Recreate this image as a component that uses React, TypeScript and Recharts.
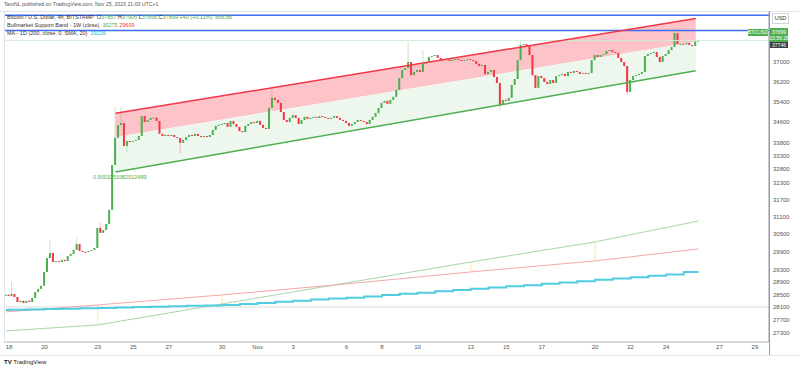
import React from "react";
import {
  ComposedChart,
  Bar,
  Line,
  Area,
  XAxis,
  YAxis,
  ReferenceLine,
} from "recharts";

// 4h bars, bar 0 = Oct 18 00:00 UTC, first bar is Oct 17 20:00
const FIRST_BAR = -1;
const firstOpen = 28470;

// closes, one row per day (00,04,08,12,16,20)
const closes = [
  28490,
  28450, 28520, 28420, 28260, 28300, 28230, // Oct 18
  28300, 28260, 28390, 28580, 28680, 28780, // Oct 19
  29230, 29690, 29860, 29560, 29590, 29560, // Oct 20
  29630, 29590, 29760, 29830, 29960, 30160, // Oct 21
  29930, 29900, 29890, 29930, 29960, 30030, // Oct 22
  30710, 30540, 30640, 30850, 31340, 32960, // Oct 23
  33980, 34470, 34550, 33670, 33860, 33820, // Oct 24
  33860, 33900, 34050, 34820, 34590, 34670, // Oct 25
  34750, 34760, 34630, 34130, 34050, 34090, // Oct 26
  34050, 34090, 34010, 33970, 33790, 33900, // Oct 27
  34010, 34090, 34050, 34130, 34050, 34010, // Oct 28
  34050, 34010, 34090, 34280, 34440, 34480, // Oct 29
  34510, 34550, 34400, 34630, 34510, 34400, // Oct 30
  34240, 34200, 34440, 34510, 34590, 34550, // Oct 31
  34630, 34480, 34360, 34320, 35140, 35540, // Nov 1
  35460, 35340, 34980, 34670, 34590, 34750, // Nov 2
  34860, 34750, 34510, 34670, 34790, 34710, // Nov 3
  34750, 34790, 34750, 34820, 34790, 34750, // Nov 4
  34710, 34750, 34820, 34750, 34670, 34630, // Nov 5
  34550, 34440, 34510, 34590, 34670, 34630, // Nov 6
  34590, 34510, 34670, 34790, 34940, 35140, // Nov 7
  35340, 35420, 35300, 35460, 35580, 35860, // Nov 8
  36340, 36670, 36750, 37000, 36460, 36590, // Nov 9
  36670, 36590, 36920, 37000, 37210, 37250, // Nov 10
  37290, 37170, 37080, 37120, 37080, 37040, // Nov 11
  37080, 37120, 37080, 37040, 37080, 37120, // Nov 12
  37080, 37040, 36920, 36830, 36880, 36500, // Nov 13
  36590, 36670, 36380, 36140, 35260, 35460, // Nov 14
  35420, 35540, 36060, 36300, 37080, 37710, // Nov 15
  37750, 37670, 37290, 36460, 35940, 36420, // Nov 16
  36340, 36180, 36100, 36260, 36140, 36420, // Nov 17
  36460, 36510, 36420, 36590, 36550, 36630, // Nov 18
  36590, 36510, 36550, 36510, 36550, 37080, // Nov 19
  37290, 37210, 37290, 37330, 37460, 37500, // Nov 20
  37420, 37380, 37170, 37000, 36830, 35780, // Nov 21
  36260, 36420, 36460, 36510, 36590, 37250, // Nov 22
  37330, 37380, 37420, 37210, 37000, 37250, // Nov 23
  37330, 37500, 37630, 38220, 37750, 37760, // Nov 24
  37740, 37800, 37710, 37670, 37857, 37899, // Nov 25
];

// visible wicks beyond the body
const highWicks: Record<number, number> = {
  1: 28900, 14: 30300, 23: 30400, 31: 30900, 36: 35180, 38: 35180,
  89: 35930, 135: 37840, 140: 37500, 173: 37930, 225: 38410,
};
const lowWicks: Record<number, number> = {
  40: 33450, 58: 33400, 166: 35060, 209: 35650,
};

const dayTicks = [0, 12, 30, 42, 54, 72, 84, 96, 114, 126, 138, 156, 168, 180, 198, 210, 222, 240, 252];
const dayLabels = ["18", "20", "23", "25", "27", "30", "Nov", "3", "6", "8", "10", "13", "15", "17", "20", "22", "24", "27", "29"];

const priceTicks = [37000, 36200, 35400, 34600, 33800, 33300, 32800, 32300, 31700, 31100, 30500, 29900, 29300, 28900, 28500, 28100, 27700, 27300];

// parallel channel drawing
const channelBars = [36, 232];
const channelUpper = [34930, 38850];
const channelMid = [34010, 37850];
const channelLower = [32700, 36640];

// Bullmarket Support Band (1W), weekly points
const bandBars = [-1, 30, 72, 114, 156, 198, 233];
const bandGreen = [27358, 27543, 28200, 28873, 29561, 30232, 30953];
const bandRed = [27948, 28168, 28486, 28840, 29231, 29594, 29996];
// weeks where the faint connector shows
const bandMarks = [30, 72, 156, 198];

// MA 200 (1D), Oct 17 .. Nov 25
const maDaily = [
  28011, 28015, 28027, 28036, 28049, 28061, 28074, 28086, 28099, 28111, 28127, 28140, 28152, 28168, 28200,
  28231, 28269, 28301, 28339, 28371, 28400, 28438, 28480, 28521, 28560, 28601, 28643, 28685, 28727, 28766,
  28801, 28843, 28886, 28931, 28973, 29015, 29061, 29103, 29146, 29226,
];

const blueLines = [38990, 38330];
const greyLine = 28105;
const lastPrice = 37899;

const GREEN = "#4caf50";
const RED = "#f23645";
const FONT = "'Liberation Sans', Arial, sans-serif";

const rows: any[] = closes.map((c, i) => {
  const b = FIRST_BAR + i;
  const o = i === 0 ? firstOpen : closes[i - 1];
  const h = Math.max(o, c, highWicks[b] ?? 0);
  const l = Math.min(o, c, lowWicks[b] ?? Infinity);
  return { b, o, c, h, l, rng: [l, h] };
});
const rowAt = (b: number) => rows[b - FIRST_BAR];

channelBars.forEach((b, i) => {
  const r = rowAt(b);
  r.chU = channelUpper[i];
  r.chL = channelLower[i];
  r.chRed = [channelMid[i], channelUpper[i]];
  r.chGreen = [channelLower[i], channelMid[i]];
});
bandBars.forEach((b, i) => {
  const r = rowAt(b);
  r.bandG = bandGreen[i];
  r.bandR = bandRed[i];
});
maDaily.forEach((v, d) => {
  rowAt(d === 0 ? -1 : (d - 1) * 6).ma = v;
});
rows[rows.length - 1].ma = maDaily[maDaily.length - 1];

const Candle = (props: any) => {
  const { x, y, width, height, payload } = props;
  if (!payload || payload.o == null) return null;
  const { o, c, h, l } = payload;
  const top = Math.min(y, y + height);
  const hh = Math.abs(height);
  const lh = Math.log(h);
  const ll = Math.log(l);
  const toY = (v: number) => (lh === ll ? top : top + (hh * (lh - Math.log(v))) / (lh - ll));
  const cx = x + width / 2;
  const color = c >= o ? GREEN : RED;
  const y1 = toY(Math.max(o, c));
  const y2 = toY(Math.min(o, c));
  return (
    <g>
      <line x1={cx} x2={cx} y1={top} y2={top + hh} stroke={color} strokeOpacity={0.3} strokeWidth={1} />
      <rect x={cx - 1} y={y1} width={2} height={Math.max(1, y2 - y1)} fill={color} />
    </g>
  );
};

const txt: React.CSSProperties = { position: "absolute", fontFamily: FONT, whiteSpace: "nowrap", lineHeight: 1 };

export default function App() {
  return (
    <div style={{ position: "relative", width: 800, height: 370, background: "#fff", overflow: "hidden" }}>
      <style>{"body{margin:0}"}</style>

      <div style={{ ...txt, left: 4, top: 2, fontSize: 5.2, color: "#555" }}>
        TaroNL published on TradingView.com, Nov 25, 2023 21:03 UTC+1
      </div>

      <div style={{ position: "absolute", left: 0, top: 0 }}>
        <ComposedChart
          width={800}
          height={355}
          data={rows}
          margin={{ top: 11, right: 0, bottom: 0, left: 4 }}
        >
          <XAxis
            dataKey="b"
            type="number"
            domain={[-1.69, 256.76]}
            allowDataOverflow
            ticks={dayTicks}
            interval={0}
            tickFormatter={(v: number) => dayLabels[dayTicks.indexOf(v)] ?? ""}
            height={13}
            tickLine={false}
            tickSize={0}
            tickMargin={3}
            axisLine={{ stroke: "#b2b5be" }}
            tick={{ fontSize: 6, fill: "#555", fontFamily: FONT }}
          />
          <YAxis
            orientation="right"
            scale="log"
            domain={[27020, 39180]}
            allowDataOverflow
            ticks={priceTicks}
            interval={0}
            width={31}
            tickLine={false}
            tickSize={0}
            tickMargin={4}
            axisLine={{ stroke: "#9598a1" }}
            tick={{ fontSize: 6, fill: "#555", fontFamily: FONT }}
          />

          <ReferenceLine y={greyLine} stroke="#ededed" strokeWidth={2.5} />
          <ReferenceLine y={lastPrice} stroke="#d3ead4" strokeWidth={1} />
          {blueLines.map((p) => (
            <ReferenceLine key={p} y={p} stroke="#3f6df0" strokeWidth={1.5} />
          ))}

          <Area dataKey="chRed" stroke="none" fill="#fcc3c8" fillOpacity={1} connectNulls isAnimationActive={false} />
          <Area dataKey="chGreen" stroke="none" fill="#edf7ee" fillOpacity={1} connectNulls isAnimationActive={false} />
          <Line dataKey="chU" stroke={RED} strokeWidth={1.5} dot={false} connectNulls isAnimationActive={false} />
          <Line dataKey="chL" stroke={GREEN} strokeWidth={1.5} dot={false} connectNulls isAnimationActive={false} />

          {bandMarks.map((b) => {
            const i = bandBars.indexOf(b);
            return (
              <ReferenceLine
                key={"g" + b}
                segment={[{ x: b, y: bandRed[i] }, { x: b, y: bandGreen[i] }]}
                stroke="#fbe9a6"
                strokeWidth={1}
              />
            );
          })}
          <Line dataKey="bandG" stroke="#a5d9a6" strokeWidth={1} dot={false} connectNulls isAnimationActive={false} />
          <Line dataKey="bandR" stroke="#f6a5aa" strokeWidth={1} dot={false} connectNulls isAnimationActive={false} />
          <Line
            dataKey="ma"
            type="stepAfter"
            stroke="#52cce0"
            strokeWidth={2}
            dot={false}
            connectNulls
            isAnimationActive={false}
          />

          <Bar dataKey="rng" barSize={2} shape={<Candle />} isAnimationActive={false} />
        </ComposedChart>
      </div>

      {/* frame */}
      <div style={{ position: "absolute", left: 0, top: 11, width: 800, height: 1, background: "#e0e3eb" }} />
      <div style={{ position: "absolute", left: 769, top: 11, width: 1, height: 344, background: "#9598a1" }} />
      <div style={{ position: "absolute", left: 0, top: 355, width: 800, height: 1, background: "#e0e3eb" }} />
      <div style={{ position: "absolute", left: 4, top: 11, width: 1, height: 331, background: "#e0e3eb" }} />

      {/* legend */}
      <div style={{ ...txt, left: 7, top: 14.5, fontSize: 5.5, color: "#333" }}>
        Bitcoin / U.S. Dollar, 4h, BITSTAMP&nbsp; O<span style={{ color: GREEN }}>37857</span> H<span style={{ color: GREEN }}>37905</span> L<span style={{ color: GREEN }}>37856</span> C<span style={{ color: GREEN }}>37899</span> <span style={{ color: GREEN }}>+40 (+0.11%)</span>&nbsp; <span style={{ color: GREEN }}>866.86</span>
      </div>
      <div style={{ ...txt, left: 7, top: 22.5, fontSize: 5.5, color: "#333" }}>
        Bullmarket Support Band - 1W (close)&nbsp; <span style={{ color: GREEN }}>30275</span> <span style={{ color: RED }}>29609</span>
      </div>
      <div style={{ ...txt, left: 7, top: 30.5, fontSize: 5.5, color: "#333" }}>
        MA - 1D (200, close, 0, SMA, 20)&nbsp; <span style={{ color: "#22b8d6" }}>29226</span>
      </div>

      <div style={{ ...txt, left: 93, top: 174.5, fontSize: 5.5, color: GREEN }}>0.9003253382012489</div>

      {/* price axis labels */}
      <div style={{ ...txt, left: 772, top: 13, width: 17, height: 11, border: "1px solid #d1d4dc", boxSizing: "border-box", fontSize: 5.5, color: "#333", display: "flex", alignItems: "center", justifyContent: "center" }}>USD</div>
      <div style={{ ...txt, left: 748, top: 29, width: 20, height: 7, background: GREEN, color: "#fff", fontSize: 5, display: "flex", alignItems: "center", justifyContent: "center" }}>BTCUSD</div>
      <div style={{ ...txt, left: 770, top: 28, width: 18, height: 14, background: GREEN, color: "#fff", fontSize: 5, display: "flex", flexDirection: "column", alignItems: "center", justifyContent: "center", gap: 1 }}>
        <span>37899</span>
        <span>03:56:28</span>
      </div>
      <div style={{ ...txt, left: 770, top: 42, width: 18, height: 6, background: "#3a3e48", color: "#fff", fontSize: 5, display: "flex", alignItems: "center", justifyContent: "center" }}>37746</div>

      <div style={{ ...txt, left: 4, top: 359, fontSize: 6, color: "#131722" }}>
        <b>TV</b> TradingView
      </div>
    </div>
  );
}
